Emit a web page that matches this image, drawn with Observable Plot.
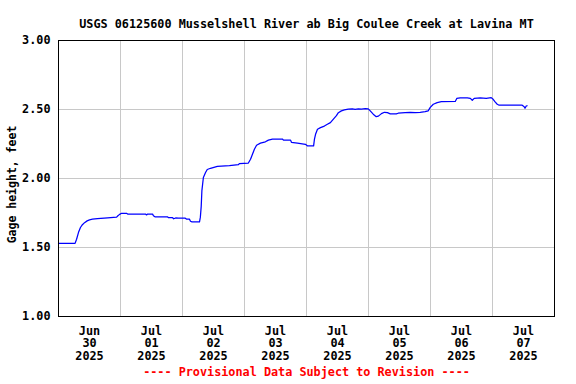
<!DOCTYPE html>
<html><head><meta charset="utf-8">
<script src="https://cdn.jsdelivr.net/npm/d3@7"></script>
<script src="https://cdn.jsdelivr.net/npm/@observablehq/plot@0.6"></script>
<style>body{margin:0;background:#fff}</style>
</head><body><div id="chart"></div>
<script>
const title = "USGS 06125600 Musselshell River ab Big Coulee Creek at Lavina MT";
const caption = "---- Provisional Data Subject to Revision ----";
const yLabel = "Gage height, feet";
const yTicks = [1.0, 1.5, 2.0, 2.5, 3.0];
const dayLabels = ["2025-06-30","2025-07-01","2025-07-02","2025-07-03","2025-07-04","2025-07-05","2025-07-06","2025-07-07"];

const times = [
 "2025-06-30T00:00","2025-06-30T06:25","2025-06-30T07:00","2025-06-30T07:45","2025-06-30T08:30","2025-06-30T09:15",
 "2025-06-30T10:05","2025-06-30T11:05","2025-06-30T12:00","2025-06-30T13:10","2025-06-30T15:05","2025-06-30T19:00",
 "2025-06-30T22:30","2025-06-30T23:00","2025-06-30T23:40","2025-07-01T00:25","2025-07-01T02:20","2025-07-01T02:45",
 "2025-07-01T09:40","2025-07-01T10:05","2025-07-01T10:30","2025-07-01T12:25","2025-07-01T12:45","2025-07-01T13:20",
 "2025-07-01T18:10","2025-07-01T18:35","2025-07-01T20:10","2025-07-01T20:35","2025-07-01T21:20","2025-07-01T22:25",
 "2025-07-02T01:05","2025-07-02T01:30","2025-07-02T02:40","2025-07-02T03:05","2025-07-02T03:40","2025-07-02T06:35",
 "2025-07-02T06:55","2025-07-02T07:15","2025-07-02T07:30","2025-07-02T08:05","2025-07-02T08:55","2025-07-02T09:35",
 "2025-07-02T10:50","2025-07-02T13:30","2025-07-02T18:10","2025-07-02T21:40","2025-07-02T22:00","2025-07-03T01:30",
 "2025-07-03T02:20","2025-07-03T03:05","2025-07-03T03:50","2025-07-03T04:40","2025-07-03T06:10","2025-07-03T08:05",
 "2025-07-03T09:15","2025-07-03T10:50","2025-07-03T14:40","2025-07-03T15:05","2025-07-03T17:50","2025-07-03T18:10",
 "2025-07-03T20:30","2025-07-03T23:35","2025-07-04T00:25","2025-07-04T02:45","2025-07-04T03:05","2025-07-04T03:30",
 "2025-07-04T04:15","2025-07-04T05:25","2025-07-04T06:55","2025-07-04T08:05","2025-07-04T09:15","2025-07-04T10:25",
 "2025-07-04T11:35","2025-07-04T12:20","2025-07-04T13:30","2025-07-04T14:40","2025-07-04T16:10","2025-07-04T17:45",
 "2025-07-04T18:50","2025-07-04T20:05","2025-07-04T21:15","2025-07-04T22:45","2025-07-04T23:55","2025-07-05T00:40",
 "2025-07-05T01:50","2025-07-05T03:00","2025-07-05T03:50","2025-07-05T05:00","2025-07-05T06:10","2025-07-05T07:20",
 "2025-07-05T08:25","2025-07-05T10:45","2025-07-05T11:30","2025-07-05T14:10","2025-07-05T16:10","2025-07-05T18:05",
 "2025-07-05T20:00","2025-07-05T21:55","2025-07-05T23:05","2025-07-05T23:55","2025-07-06T01:05","2025-07-06T02:35",
 "2025-07-06T04:10","2025-07-06T09:35","2025-07-06T10:10","2025-07-06T11:30","2025-07-06T14:15","2025-07-06T15:25",
 "2025-07-06T16:10","2025-07-06T16:55","2025-07-06T19:15","2025-07-06T21:35","2025-07-06T23:30","2025-07-07T00:15",
 "2025-07-07T01:00","2025-07-07T01:50","2025-07-07T02:35","2025-07-07T11:30","2025-07-07T12:15","2025-07-07T12:35",
 "2025-07-07T13:00","2025-07-07T13:25"
];
const heights = [
 1.53,1.53,1.56,1.61,1.645,1.665,
 1.68,1.693,1.70,1.705,1.71,1.715,
 1.72,1.73,1.74,1.748,1.748,1.742,
 1.742,1.736,1.742,1.742,1.73,1.722,
 1.722,1.716,1.716,1.708,1.714,1.712,
 1.712,1.706,1.706,1.69,1.686,1.686,
 1.72,1.80,1.91,2.007,2.043,2.065,
 2.074,2.088,2.094,2.10,2.108,2.112,
 2.14,2.176,2.212,2.241,2.256,2.266,
 2.278,2.286,2.286,2.278,2.278,2.262,
 2.256,2.248,2.236,2.236,2.285,2.32,
 2.357,2.369,2.38,2.393,2.405,2.43,
 2.455,2.477,2.49,2.497,2.502,2.505,
 2.501,2.505,2.502,2.506,2.505,2.49,
 2.466,2.448,2.452,2.47,2.48,2.477,
 2.468,2.468,2.473,2.477,2.48,2.477,
 2.48,2.484,2.49,2.515,2.538,2.55,
 2.557,2.558,2.58,2.585,2.585,2.581,
 2.567,2.581,2.585,2.581,2.586,2.574,
 2.555,2.538,2.531,2.531,2.52,2.509,
 2.524,2.527
];

const data = times.map((t, i) => ({date: new Date(t + ":00Z"), value: heights[i]}));
const noon = dayLabels.map(d => new Date(d + "T12:00:00Z"));
const midnights = dayLabels.slice(1).map(d => new Date(d + "T00:00:00Z"));
const fmt = d3.utcFormat("%b\n%d\n%Y");
const font = "'DejaVu Sans Mono', 'Liberation Mono', monospace";

const plot = Plot.plot({
  width: 576, height: 384,
  marginLeft: 58, marginRight: 22, marginTop: 40, marginBottom: 68,
  style: {fontFamily: font, fontWeight: "bold", fontSize: "11.8px", background: "#fff", color: "#000"},
  x: {type: "utc", domain: [new Date("2025-06-30T00:00:00Z"), new Date("2025-07-08T00:00:00Z")]},
  y: {domain: [1, 3]},
  marks: [
    Plot.gridY(yTicks, {stroke: "#c8c8c8", strokeOpacity: 1}),
    Plot.gridX(midnights, {stroke: "#c8c8c8", strokeOpacity: 1}),
    Plot.line(data, {x: "date", y: "value", stroke: "#0000ff", strokeWidth: 1.25}),
    Plot.frame({stroke: "#000", strokeWidth: 1}),
    Plot.axisY({ticks: yTicks, tickSize: 0, tickPadding: 8, tickFormat: d => d.toFixed(2), label: null, fill: "#000"}),
    Plot.axisX({ticks: noon, tickSize: 0, tickPadding: 9, tickFormat: fmt, label: null, lineHeight: 1.08, fill: "#000"}),
    Plot.text([title], {text: d => d, frameAnchor: "top", dy: -21, fill: "#000", fontSize: 11.8}),
    Plot.text([caption], {text: d => d, frameAnchor: "bottom", dy: 59, fill: "#ff0000", fontSize: 11.8}),
    Plot.text([yLabel], {text: d => d, frameAnchor: "left", textAnchor: "middle", dx: -46, dy: 6, rotate: -90, fill: "#000", fontSize: 11.5})
  ]
});
document.getElementById("chart").appendChild(plot);
</script>
</body></html>
